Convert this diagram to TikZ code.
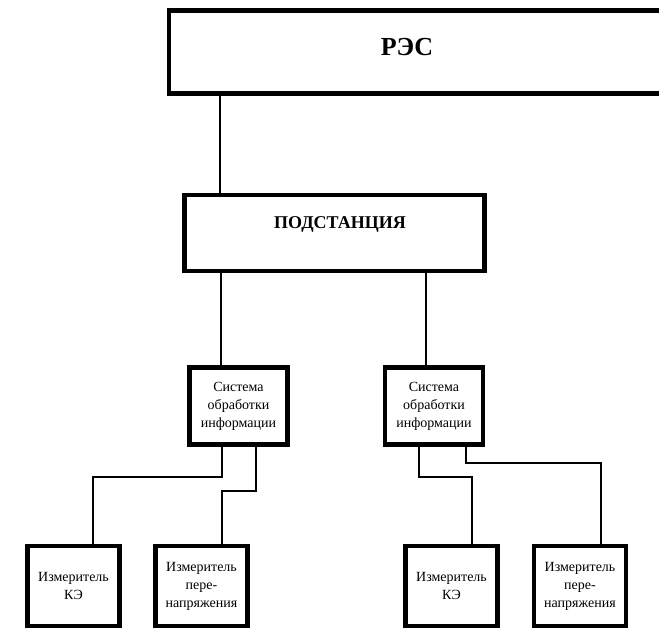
\documentclass[tikz,border=0pt]{standalone}
\usepackage{fontspec}
\setmainfont{Liberation Serif}
\begin{document}
\begin{tikzpicture}[x=1pt,y=-1pt,
    box/.style={draw=black,line width=4.5pt,fill=white,inner sep=2pt,align=center,
      font=\fontsize{14}{18}\selectfont},
    head/.style={font=\bfseries,anchor=base,inner sep=0pt},
    conn/.style={draw=black,line width=2pt}]
    \useasboundingbox (0,0) rectangle (659,630);
    \clip (0,0) rectangle (659,630);
    % upper levels
    \node [box,minimum width=549pt,minimum height=83pt] (res) at (443.5,52) {};
    \node [head,font=\fontsize{26}{30}\bfseries\selectfont] (restext) at (407,55) {РЭС};
    \node [box,minimum width=300pt,minimum height=76pt] (podst) at (334.5,233) {};
    \node [head,font=\fontsize{18}{22}\bfseries\selectfont] (podsttext) at (340,228) {ПОДСТАНЦИЯ};
    % processing systems
    \node [box,minimum width=98pt,minimum height=77pt] (lsys) at (238.5,406) {Система\\обработки\\информации};
    \node [box,minimum width=98pt,minimum height=77pt] (rsys) at (434,406) {Система\\обработки\\информации};
    % meters
    \node [box,minimum width=92pt,minimum height=80pt] (lke) at (73.5,586) {Измеритель\\КЭ};
    \node [box,minimum width=92pt,minimum height=80pt] (lper) at (201.5,586) {Измеритель\\пере-\\напряжения};
    \node [box,minimum width=92pt,minimum height=80pt] (rke) at (451.5,586) {Измеритель\\КЭ};
    \node [box,minimum width=92pt,minimum height=80pt] (rper) at (580,586) {Измеритель\\пере-\\напряжения};
    % columns and bends
    \coordinate (xres) at (220,0);
    \coordinate (xl) at (221,0);
    \coordinate (xr) at (426,0);
    \coordinate (la) at (222,0);
    \coordinate (lb) at (256,0);
    \coordinate (lkbend) at (93,477);
    \coordinate (lpbend) at (222,491);
    \coordinate (ra) at (419,0);
    \coordinate (rb) at (466,0);
    \coordinate (rkbend) at (472,477);
    \coordinate (rpbend) at (601,463);
    % connectors
    \draw [conn] (res.south -| xres) -- (podst.north -| xres);
    \draw [conn] (podst.south -| xl) -- (lsys.north -| xl);
    \draw [conn] (podst.south -| xr) -- (rsys.north -| xr);
    \draw [conn] (lsys.south -| la) |- (lkbend) -- (lke.north -| lkbend);
    \draw [conn] (lsys.south -| lb) |- (lpbend) -- (lper.north -| lpbend);
    \draw [conn] (rsys.south -| ra) |- (rkbend) -- (rke.north -| rkbend);
    \draw [conn] (rsys.south -| rb) |- (rpbend) -- (rper.north -| rpbend);
\end{tikzpicture}
\end{document}
